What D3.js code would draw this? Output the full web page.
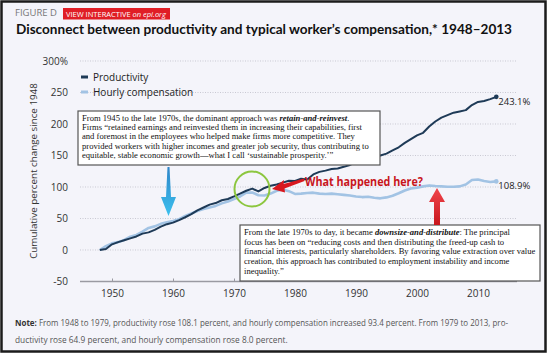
<!DOCTYPE html>
<html>
<head>
<meta charset="utf-8">
<script src="https://cdn.jsdelivr.net/npm/d3@7"></script>
<style>
  body { margin: 0; background: #fff; }
  svg { display: block; }
</style>
</head>
<body>
<div id="chart"></div>
<script>
// data (cumulative % change since 1948)
const years = [1948, 1949, 1950, 1951, 1952, 1953, 1954, 1955, 1956, 1957,
  1958, 1959, 1960, 1961, 1962, 1963, 1964, 1965, 1966, 1967,
  1968, 1969, 1970, 1971, 1972, 1973, 1974, 1975, 1976, 1977,
  1978, 1979, 1980, 1981, 1982, 1983, 1984, 1985, 1986, 1987,
  1988, 1989, 1990, 1991, 1992, 1993, 1994, 1995, 1996, 1997,
  1998, 1999, 2000, 2001, 2002, 2003, 2004, 2005, 2006, 2007,
  2008, 2009, 2010, 2011, 2012, 2013];

const productivity = [0, 1.5, 9.0, 12.5, 15.5, 18.5, 21.5, 26, 28, 32,
  37, 41, 43.5, 47.5, 52, 57, 63, 67.5, 72, 74.5,
  79, 81, 85, 89.5, 94, 97.5, 93, 98.5, 102, 104,
  107, 110, 109.5, 113, 112, 120, 124, 126, 128.5, 129.5,
  132, 135, 139, 141, 146, 148, 150, 153, 158, 163,
  170, 176, 182, 186, 196, 204, 210, 214, 218, 220,
  222, 230, 235, 236.5, 239.5, 243.1];

const compensation = [0, 6, 10.5, 12.5, 16, 21, 24, 29, 35, 37.5,
  41.5, 44, 46, 49, 54, 58, 62, 65, 67.5, 70,
  74, 77, 81, 85, 91, 91.3, 87, 86.5, 89.5, 94,
  96, 93.4, 89, 89.5, 90.5, 91, 89.5, 89, 89.5, 88.5,
  87.5, 86.5, 85, 84, 84.5, 83, 82, 83.5, 86, 90,
  94.5, 97.5, 99, 101, 102.5, 101.5, 101, 100.5, 100.5, 101,
  104, 111, 112, 109.5, 108, 108.9];

const xTicks = [1950, 1960, 1970, 1980, 1990, 2000, 2010];
const yTicks = [-50, 0, 50, 100, 150, 200, 250, 300];
const seriesNames = ["Productivity", "Hourly compensation"];
const endLabels = ["243.1%", "108.9%"];

const box1Lines = [
  [["From 1945 to the late 1970s, the dominant approach was ", false], ["retain-and-reinvest", true], [".", false]],
  [["Firms \u201Cretained earnings and reinvested them in increasing their capabilities, first", false]],
  [["and foremost in the employees who helped make firms more competitive. They", false]],
  [["provided workers with higher incomes and greater job security, thus contributing to", false]],
  [["equitable, stable economic growth\u2014what I call \u2018sustainable prosperity.\u2019\u201D", false]]
];
const box2Lines = [
  [["From the late 1970s to day, it became ", false], ["downsize-and-distribute", true], [": The principal", false]],
  [["focus has been on \u201Creducing costs and then distributing the freed-up cash to", false]],
  [["financial interests, particularly shareholders. By favoring value extraction over value", false]],
  [["creation, this approach has contributed to employment instability and income", false]],
  [["inequality.\u201D", false]]
];
const noteLines = [
  "From 1948 to 1979, productivity rose 108.1 percent, and hourly compensation increased 93.4 percent. From 1979 to 2013, pro-",
  "ductivity rose 64.9 percent, and hourly compensation rose 8.0 percent."
];

const width = 550;
const height = 354;
const sans = "'Open Sans', 'Noto Sans', sans-serif";
const serif = "'Liberation Serif', 'DejaVu Serif', serif";
const prodColor = "#1e3a57";
const compColor = "#a2c3e4";

const svg = d3.select("#chart").append("svg")
  .attr("width", width)
  .attr("height", height);

// background + frame
svg.append("rect").attr("width", width).attr("height", height).attr("fill", "#fff");
svg.append("rect")
  .attr("x", 1.5).attr("y", 1.5)
  .attr("width", 544).attr("height", 350)
  .attr("fill", "#f4f4fa")
  .attr("stroke", "#1b1b1b")
  .attr("stroke-width", 2.5);

// header
svg.append("text")
  .attr("x", 15).attr("y", 16)
  .attr("font-family", sans).attr("font-size", 9.5)
  .attr("fill", "#777")
  .text("FIGURE D");
svg.append("rect")
  .attr("x", 63).attr("y", 8).attr("width", 107).attr("height", 11.5)
  .attr("fill", "#e01e26");
const vi = svg.append("text")
  .attr("x", 66).attr("y", 16.5)
  .attr("font-family", sans).attr("font-size", 7.2)
  .attr("fill", "#fff")
  .attr("textLength", 100).attr("lengthAdjust", "spacingAndGlyphs");
vi.append("tspan").text("VIEW INTERACTIVE ");
vi.append("tspan").attr("font-style", "italic").text("on epi.org");

svg.append("text")
  .attr("x", 16).attr("y", 34)
  .attr("font-family", "Lato, sans-serif").attr("font-weight", "bold")
  .attr("font-size", 13.5)
  .attr("fill", "#111")
  .attr("textLength", 496).attr("lengthAdjust", "spacingAndGlyphs")
  .text("Disconnect between productivity and typical worker\u2019s compensation,* 1948\u20132013");

// scales
const x = d3.scaleLinear().domain([1950, 2010]).range([112, 478]);
const y = d3.scaleLinear().domain([-50, 300]).range([281.5, 61]);
const gridLeft = 80, gridRight = 517;

// gridlines
svg.append("g").selectAll("line")
  .data(yTicks.filter(d => d > -50))
  .enter().append("line")
  .attr("x1", gridLeft).attr("x2", gridRight)
  .attr("y1", d => y(d)).attr("y2", d => y(d))
  .attr("stroke", "#c9c9d3")
  .attr("stroke-width", 1)
  .attr("stroke-dasharray", "1,1.5");

// y axis labels
const yAxis = svg.append("g")
  .attr("transform", "translate(70,0)")
  .call(d3.axisLeft(y).tickValues(yTicks).tickSize(0).tickPadding(2)
    .tickFormat(d => d === 300 ? "300%" : d));
yAxis.select(".domain").remove();
yAxis.selectAll("text")
  .attr("font-family", sans).attr("font-size", 10).attr("fill", "#333");

svg.append("text")
  .attr("transform", "translate(37,171) rotate(-90)")
  .attr("text-anchor", "middle")
  .attr("font-family", sans).attr("font-size", 9.8)
  .attr("fill", "#333")
  .text("Cumulative percent change since 1948");

// x axis
svg.append("line")
  .attr("x1", gridLeft).attr("x2", gridRight)
  .attr("y1", y(-50)).attr("y2", y(-50))
  .attr("stroke", "#9a9aa2").attr("stroke-width", 1.5);
const xAxis = svg.append("g")
  .attr("transform", `translate(0,${y(-50)})`)
  .call(d3.axisBottom(x).tickValues(xTicks).tickSize(-3).tickSizeOuter(0)
    .tickPadding(8).tickFormat(d3.format("d")));
xAxis.select(".domain").remove();
xAxis.selectAll("line").attr("stroke", "#9a9aa2");
xAxis.selectAll("text")
  .attr("font-family", sans).attr("font-size", 10).attr("fill", "#333");

// lines
const line = d3.line()
  .x((d, i) => x(years[i]))
  .y(d => y(d));

svg.append("path")
  .datum(compensation)
  .attr("d", line)
  .attr("fill", "none")
  .attr("stroke", compColor)
  .attr("stroke-width", 2.6)
  .attr("stroke-linejoin", "round");

svg.append("path")
  .datum(productivity)
  .attr("d", line)
  .attr("fill", "none")
  .attr("stroke", prodColor)
  .attr("stroke-width", 2)
  .attr("stroke-linejoin", "round");

const last = years.length - 1;
[[productivity, prodColor], [compensation, compColor]].forEach(([s, c], i) => {
  svg.append("circle")
    .attr("cx", x(years[last])).attr("cy", y(s[last]))
    .attr("r", 2.3).attr("fill", c);
  svg.append("text")
    .attr("x", x(years[last]) + 2).attr("y", y(s[last]) + 8)
    .attr("font-family", sans).attr("font-size", 9.5)
    .attr("fill", "#222")
    .text(endLabels[i]);
});

// legend
const legend = svg.append("g").attr("transform", "translate(81,77)");
seriesNames.forEach((name, i) => {
  legend.append("line")
    .attr("x1", 0).attr("x2", 7)
    .attr("y1", i * 15).attr("y2", i * 15)
    .attr("stroke", i === 0 ? prodColor : compColor)
    .attr("stroke-width", 3);
  legend.append("text")
    .attr("x", 12).attr("y", i * 15 + 3.6)
    .attr("font-family", sans).attr("font-size", 10)
    .attr("fill", "#222")
    .text(name);
});

// annotation boxes
function textBox(bx, by, bw, bh, lines, lineH, maxW) {
  svg.append("rect")
    .attr("x", bx).attr("y", by).attr("width", bw).attr("height", bh)
    .attr("fill", "#fff").attr("stroke", "#555").attr("stroke-width", 1.2);
  lines.forEach((parts, i) => {
    const t = svg.append("text")
      .attr("x", bx + 4).attr("y", by + 10 + i * lineH)
      .attr("font-family", serif).attr("font-size", 8.6)
      .attr("fill", "#111");
    parts.forEach(([str, bold]) => {
      const ts = t.append("tspan").text(str);
      if (bold) ts.attr("font-weight", "bold").attr("font-style", "italic");
    });
    if (t.node().getComputedTextLength() > maxW) {
      t.attr("textLength", maxW).attr("lengthAdjust", "spacingAndGlyphs");
    }
  });
}

// green circle
svg.append("circle")
  .attr("cx", 252).attr("cy", 189).attr("r", 17.5)
  .attr("fill", "none").attr("stroke", "#8cc63f").attr("stroke-width", 2);

textBox(78, 111, 302, 54, box1Lines, 9.2, 294);
textBox(240, 225, 300, 56, box2Lines, 9.7, 292);

// arrows
const defs = svg.append("defs");
const blueGrad = defs.append("linearGradient").attr("id", "blueGrad")
  .attr("x1", 0).attr("y1", 0).attr("x2", 0).attr("y2", 1);
blueGrad.append("stop").attr("offset", "0%").attr("stop-color", "#2f86c9");
blueGrad.append("stop").attr("offset", "100%").attr("stop-color", "#3cc0ee");
const redGrad = defs.append("linearGradient").attr("id", "redGrad")
  .attr("x1", 0).attr("y1", 0).attr("x2", 0).attr("y2", 1);
redGrad.append("stop").attr("offset", "0%").attr("stop-color", "#f0454b");
redGrad.append("stop").attr("offset", "100%").attr("stop-color", "#c8161d");

// blue arrow pointing down at the 1960 section
svg.append("path")
  .attr("d", "M167.5,167 L169.5,167 L171,197 L176,197 L168.5,216 L161,197 L166,197 Z")
  .attr("fill", "url(#blueGrad)");

// red arrow pointing up at the 2000 flat spot
svg.append("path")
  .attr("d", "M437,188 L445,202 L440,202 L440,225 L434,225 L434,202 L429,202 Z")
  .attr("fill", "url(#redGrad)");

// red arrow pointing left at the circle
svg.append("path")
  .attr("d", "M272,189 L284,180 L283.5,184 L304,178.5 L304.5,181 L284.5,188.5 L285,192.5 Z")
  .attr("fill", "#d8181f");

svg.append("text")
  .attr("x", 305).attr("y", 186)
  .attr("font-family", sans).attr("font-weight", "bold")
  .attr("font-size", 12)
  .attr("fill", "#c8161d")
  .attr("textLength", 118).attr("lengthAdjust", "spacingAndGlyphs")
  .text("What happened here?");

// note
const note1 = svg.append("text")
  .attr("x", 15).attr("y", 326)
  .attr("font-family", sans).attr("font-size", 8.3)
  .attr("fill", "#555")
  .attr("textLength", 493).attr("lengthAdjust", "spacingAndGlyphs");
note1.append("tspan").attr("font-weight", "bold").attr("fill", "#333").text("Note: ");
note1.append("tspan").text(noteLines[0]);
svg.append("text")
  .attr("x", 15).attr("y", 343)
  .attr("font-family", sans).attr("font-size", 8.3)
  .attr("fill", "#555")
  .text(noteLines[1]);
</script>
</body>
</html>
